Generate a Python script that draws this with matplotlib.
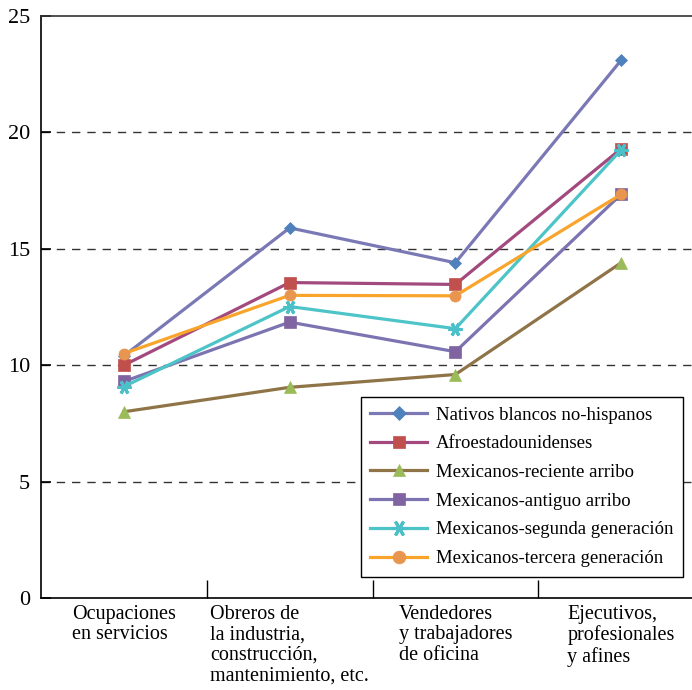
import matplotlib
matplotlib.use("Agg")
from matplotlib import pyplot as plt
from matplotlib.ticker import MultipleLocator, FixedLocator

categories = ["Ocupaciones\nen servicios",
              "Obreros de\nla industria,\nconstrucción,\nmantenimiento, etc.",
              "Vendedores\ny trabajadores\nde oficina",
              "Ejecutivos,\nprofesionales\ny afines"]

series_names = ["Nativos blancos no-hispanos",
                "Afroestadounidenses",
                "Mexicanos-reciente arribo",
                "Mexicanos-antiguo arribo",
                "Mexicanos-segunda generación",
                "Mexicanos-tercera generación"]

nativos = [10.4, 15.9, 14.4, 23.1]
afro = [10.0, 13.55, 13.47, 19.3]
reciente = [8.0, 9.05, 9.6, 14.4]
antiguo = [9.3, 11.85, 10.58, 17.34]
segunda = [9.08, 12.52, 11.57, 19.25]
tercera = [10.5, 13.0, 12.98, 17.34]

values = [nativos, afro, reciente, antiguo, segunda, tercera]

line_colors = ["#7a78b5", "#a24a7e", "#8f7447", "#7c74b1", "#4cc4c8", "#f9a52c"]
marker_colors = ["#4f81bd", "#c0504d", "#9bbb59", "#8064a2", "#4bc0c8", "#e8954f"]
markers = ["D", "s", "^", "s", (6, 2, 90), "o"]
marker_sizes = [6, 8, 8, 8, 10, 8]

plt.rcParams["font.family"] = ["Liberation Serif", "DejaVu Serif"]

fig = plt.figure(figsize=(6.92, 6.9), dpi=100)
ax = fig.add_axes([41 / 692, 1 - 598 / 690, 663 / 692, 582 / 690])

x = [0.5, 1.5, 2.5, 3.5]
for i, name in enumerate(series_names):
    mk = markers[i]
    ax.plot(x, values[i], color=line_colors[i], linewidth=2.3, label=name,
            marker=mk, markersize=marker_sizes[i],
            markerfacecolor=marker_colors[i],
            markeredgecolor=marker_colors[i],
            markeredgewidth=2.2 if mk == (6, 2, 90) else 0.5,
            zorder=3 + i)

ax.set_xlim(0, 4)
ax.set_ylim(0, 25)
ax.yaxis.set_major_locator(MultipleLocator(5))
ax.xaxis.set_major_locator(FixedLocator([1, 2, 3]))
ax.xaxis.set_minor_locator(FixedLocator(x))
ax.set_xticklabels([])
ax.set_xticklabels(categories, minor=True)
for lbl in ax.get_xticklabels(minor=True):
    lbl.set_multialignment("left")
    lbl.set_verticalalignment("top")
    lbl.set_linespacing(1.1)
ax.tick_params(axis="x", which="major", direction="in", length=13, width=1, labelbottom=False)
ax.tick_params(axis="x", which="minor", length=0, pad=5, labelsize=14.5)
ax.tick_params(axis="y", direction="in", length=7, width=1.2, labelsize=16, pad=8)

for yv in [5, 10, 15, 20]:
    ax.axhline(yv, color="#333333", linewidth=1, linestyle=(0, (6, 5)), zorder=1)

ax.spines["right"].set_visible(False)
for s in ["left", "bottom", "top"]:
    ax.spines[s].set_linewidth(1.2)
ax.spines["top"].set_color("#333333")

leg = ax.legend(loc="upper left", bbox_to_anchor=(361 / 692, 1 - 397 / 690),
                bbox_transform=fig.transFigure, fancybox=False, framealpha=1,
                edgecolor="black", fontsize=13.5, handlelength=3.0,
                borderpad=0.5, labelspacing=0.62, handletextpad=0.5,
                borderaxespad=0, markerscale=1.15)
leg.get_frame().set_linewidth(1.0)

plt.savefig("out.png", dpi=100)
